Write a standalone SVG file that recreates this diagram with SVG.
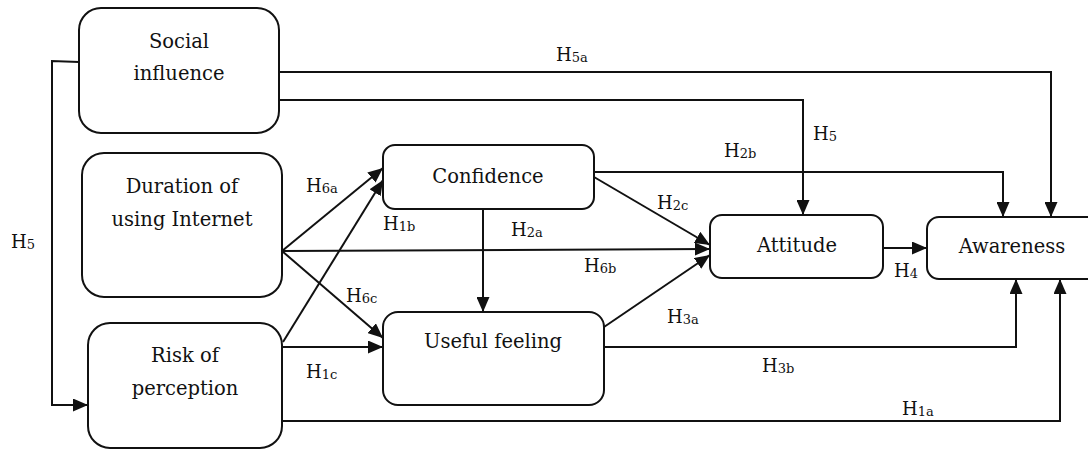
<svg xmlns="http://www.w3.org/2000/svg" width="1088" height="450" viewBox="0 0 1088 450">
<style>
.box{fill:#fff;stroke:#111;stroke-width:2}
.c{fill:none;stroke:#111;stroke-width:2}
.t{font-family:"DejaVu Serif",serif;font-size:19.5px;fill:#111;text-anchor:middle}
.l{font-family:"DejaVu Serif",serif;font-size:18px;fill:#111}
.s{font-size:13px}
</style>
<defs>
<marker id="ah" markerUnits="userSpaceOnUse" markerWidth="15" markerHeight="13" refX="15" refY="6.5" orient="auto">
<path d="M0,0 L15,6.5 L0,13 z" fill="#111"/>
</marker>
</defs>
<rect width="1088" height="450" fill="#fff"/>
<g id="connectors">
<path class="c" d="M279,72 H1051 V217" marker-end="url(#ah)"/>
<path class="c" d="M279,100 H803 V215" marker-end="url(#ah)"/>
<path class="c" d="M79,62 L52,61 V405 H88" marker-end="url(#ah)"/>
<path class="c" d="M282,251 L383,168" marker-end="url(#ah)"/>
<path class="c" d="M283,342 L383,180" marker-end="url(#ah)"/>
<path class="c" d="M282,251 L710,249" marker-end="url(#ah)"/>
<path class="c" d="M282,251 L383,338" marker-end="url(#ah)"/>
<path class="c" d="M282,347 H383" marker-end="url(#ah)"/>
<path class="c" d="M483,209 V312" marker-end="url(#ah)"/>
<path class="c" d="M594,172 H1003 V217" marker-end="url(#ah)"/>
<path class="c" d="M594,177 L710,245" marker-end="url(#ah)"/>
<path class="c" d="M604,327 L710,255" marker-end="url(#ah)"/>
<path class="c" d="M883,248 H927" marker-end="url(#ah)"/>
<path class="c" d="M604,347 H1016 V279" marker-end="url(#ah)"/>
<path class="c" d="M282,421 H1060 V279" marker-end="url(#ah)"/>
</g>
<g id="social">
<rect class="box" x="79" y="8" width="200" height="125" rx="22"/>
<text class="t" x="179" y="48">Social</text>
<text class="t" x="179" y="80">influence</text>
</g>
<g id="duration">
<rect class="box" x="82" y="153" width="200" height="144" rx="22"/>
<text class="t" x="182" y="193">Duration of</text>
<text class="t" x="182" y="226">using Internet</text>
</g>
<g id="risk">
<rect class="box" x="88" y="323" width="194" height="125" rx="22"/>
<text class="t" x="185" y="362">Risk of</text>
<text class="t" x="185" y="395">perception</text>
</g>
<g id="confidence">
<rect class="box" x="383" y="145" width="211" height="64" rx="12"/>
<text class="t" x="488" y="183">Confidence</text>
</g>
<g id="useful">
<rect class="box" x="383" y="312" width="221" height="93" rx="15"/>
<text class="t" x="493" y="348">Useful feeling</text>
</g>
<g id="attitude">
<rect class="box" x="710" y="215" width="173" height="63" rx="12"/>
<text class="t" x="797" y="252">Attitude</text>
</g>
<g id="awareness">
<rect class="box" x="927" y="217" width="180" height="62" rx="12"/>
<text class="t" x="1012" y="253">Awareness</text>
</g>
<g id="labels">
<text class="l" x="556" y="61">H<tspan class="s" dy="1">5a</tspan></text>
<text class="l" x="813" y="140">H<tspan class="s" dy="1">5</tspan></text>
<text class="l" x="11" y="248">H<tspan class="s" dy="1">5</tspan></text>
<text class="l" x="724" y="157">H<tspan class="s" dy="1">2b</tspan></text>
<text class="l" x="657" y="209">H<tspan class="s" dy="1">2c</tspan></text>
<text class="l" x="511" y="236">H<tspan class="s" dy="1">2a</tspan></text>
<text class="l" x="584" y="272">H<tspan class="s" dy="1">6b</tspan></text>
<text class="l" x="306" y="192">H<tspan class="s" dy="1">6a</tspan></text>
<text class="l" x="383" y="230">H<tspan class="s" dy="1">1b</tspan></text>
<text class="l" x="346" y="302">H<tspan class="s" dy="1">6c</tspan></text>
<text class="l" x="306" y="378">H<tspan class="s" dy="1">1c</tspan></text>
<text class="l" x="667" y="323">H<tspan class="s" dy="1">3a</tspan></text>
<text class="l" x="762" y="372">H<tspan class="s" dy="1">3b</tspan></text>
<text class="l" x="902" y="415">H<tspan class="s" dy="1">1a</tspan></text>
<text class="l" x="894" y="277">H<tspan class="s" dy="1">4</tspan></text>
</g>
</svg>
